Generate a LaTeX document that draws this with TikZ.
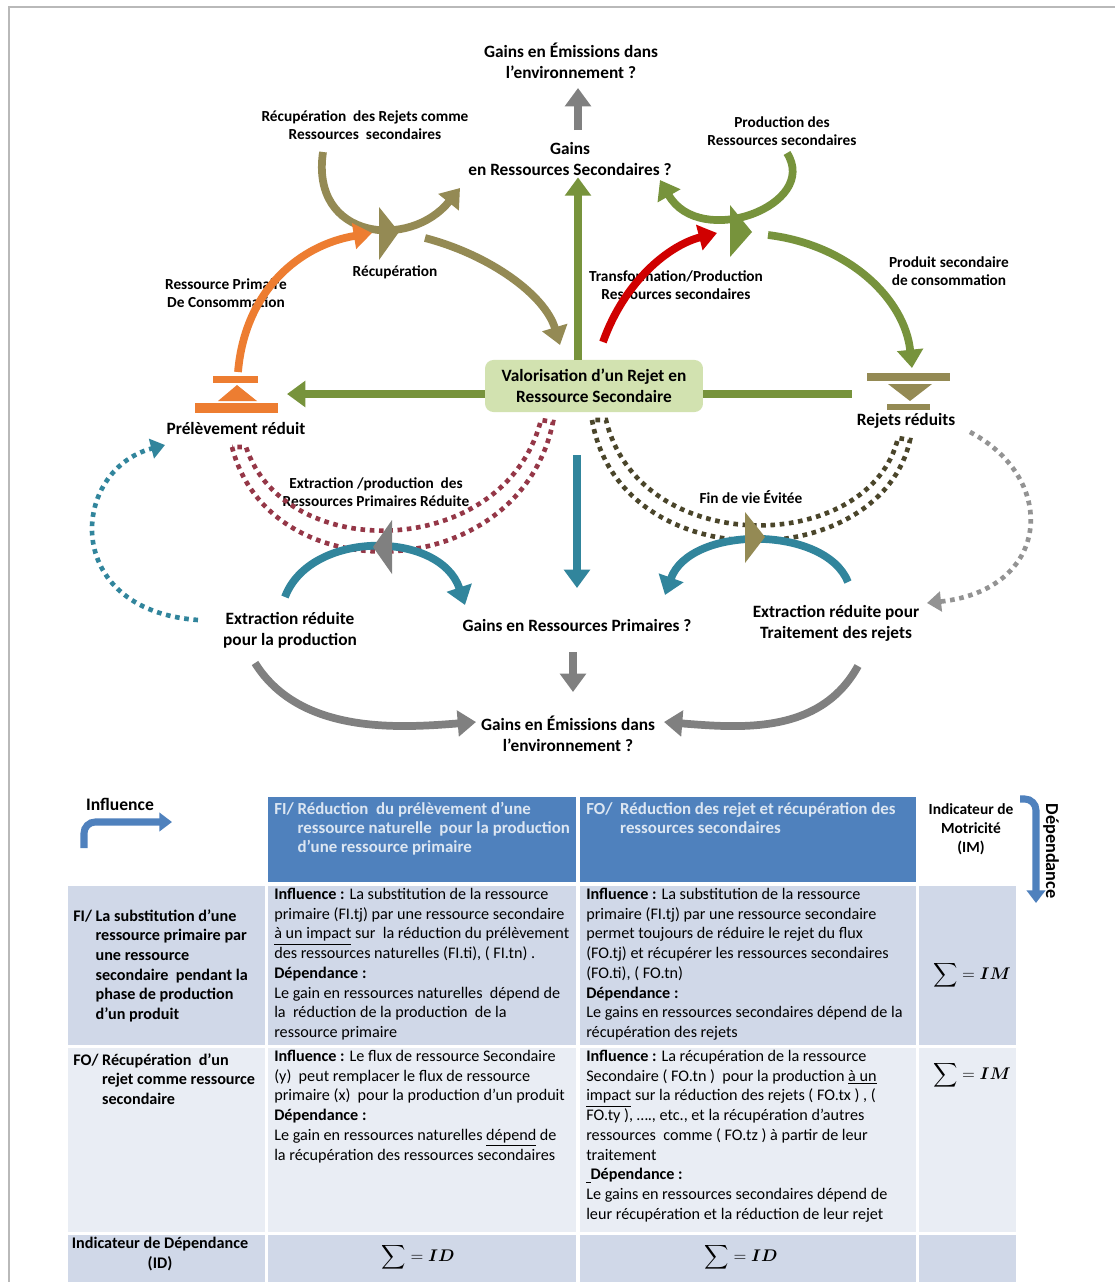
\documentclass[tikz,border=0pt]{standalone}
\usepackage{amsmath}
\usepackage{fontspec}
\setmainfont{Carlito}
\usetikzlibrary{arrows.meta}

\definecolor{flowOrange}{HTML}{ED7D31}
\definecolor{flowOlive}{HTML}{948A54}
\definecolor{flowGreen}{HTML}{77933C}
\definecolor{flowRed}{HTML}{D00000}
\definecolor{flowTeal}{HTML}{31859C}
\definecolor{flowGray}{HTML}{808080}
\definecolor{dotRed}{HTML}{953747}
\definecolor{dotOlive}{HTML}{4A452A}
\definecolor{boxGreen}{HTML}{D2E2B0}
\definecolor{headBlue}{HTML}{4F81BD}
\definecolor{headText}{HTML}{DCE6F2}
\definecolor{rowDark}{HTML}{D0D8E8}
\definecolor{rowLight}{HTML}{E9EDF4}

\begin{document}
\begin{tikzpicture}[x=0.025cm,y=-0.025cm,
  flow/.style={line width=5.5pt,-{Triangle[length=13pt,width=18pt]}},
  link/.style={line width=5.5pt},
  dotflow/.style={line width=3.3pt,dash pattern=on 3.3pt off 3.3pt},
  dottip/.style={-{Triangle[length=10pt,width=14pt]}},
  lbl/.style={font=\bfseries\fontsize{12.3}{15}\selectfont,align=center,inner sep=1pt},
  slbl/.style={font=\bfseries\fontsize{10.9}{13.2}\selectfont,align=center,inner sep=1pt},
  cell/.style={font=\fontsize{11.5}{14}\selectfont,align=left,anchor=north west,inner sep=0pt},
  rowhead/.style={font=\bfseries\fontsize{11.5}{14}\selectfont,anchor=north west,inner sep=0pt},
  headtxt/.style={font=\bfseries\fontsize{12}{13.5}\selectfont,text=headText,anchor=north west,inner sep=0pt},
  sumtxt/.style={font=\fontsize{13}{15}\selectfont,inner sep=0pt}]
\clip (0,0) rectangle (1115,1282);
\useasboundingbox (0,0) rectangle (1115,1282);
\fill[white] (0,0) rectangle (1115,1282);
\draw[gray!55,line width=1pt] (9,7) rectangle (1130,1300);

% labels of the flow diagram
\node[lbl] (emTop) at (571,61) {Gains en Émissions dans\\l’environnement ?};
\node[lbl] (gSec) at (570,159) {Gains\\en Ressources Secondaires ?};
\node[slbl] (recupRej) at (365,125) {Récupération\ \ des Rejets comme\\Ressources\ \ secondaires};
\node[slbl] (recup) at (395,272) {Récupération};
\node[slbl] (resPrim) at (226,293) {Ressource Primaire\\De Consommation};
\node[slbl] (prodSec) at (782,131) {Production des\\Ressources secondaires};
\node[slbl] (transf) at (676,285) {Transformation/Production\\Ressources secondaires};
\node[slbl] (prodCons) at (949,271) {Produit secondaire\\de consommation};
\node[lbl] (prel) at (236,428) {Prélèvement réduit};
\node[lbl] (rej) at (906,421) {Rejets réduits};
\node[slbl] (extrProd) at (376,492) {Extraction /production\ \ des\\Ressources Primaires Réduite};
\node[slbl] (finVie) at (751,497) {Fin de vie Évitée};
\node[lbl] (gPrim) at (577,625) {Gains en Ressources Primaires ?};
\node[lbl] (extrRed) at (290,630) {Extraction réduite\\pour la production};
\node[lbl] (extrTrait) at (836,623) {Extraction réduite pour\\Traitement des rejets};
\node[lbl] (emBot) at (568,734) {Gains en Émissions dans\\l’environnement ?};
\node[lbl,fill=boxGreen,rounded corners=6pt,minimum width=155pt,minimum height=37pt]
  (val) at (594,386) {Valorisation d’un Rejet en\\Ressource Secondaire};

\coordinate (valUp) at (578,360);
\coordinate (valDn) at (577,455);
\coordinate (valL) at (485,394);
\coordinate (valR) at (703,394);
\coordinate (preTip) at (287,394);
\coordinate (rejEnd) at (852,394);
\coordinate (topDn) at (578,130);
\coordinate (topUp) at (578,88);
\coordinate (botUp) at (573,652);
\coordinate (botDn) at (573,692);

% straight arrows
\draw[flow,flowGray] (topDn) -- (topUp);
\draw[flow,flowGreen] (valUp) -- (valUp |- gSec.south);
\draw[flow,flowGreen] (valL) -- (preTip);
\draw[link,flowGreen] (valR) -- (rejEnd);
\draw[flow,flowTeal] (valDn) -- (577,588);
\draw[flow,flowGray] (botUp) -- (botDn);

% withdrawal and discharge symbols
\fill[flowOrange] (213,376) rectangle (258,383);
\fill[flowOrange] (218,401) -- (237,385) -- (257,401) -- cycle;
\fill[flowOrange] (195,403) rectangle (278,413);
\fill[flowOlive] (867,373) rectangle (950,381);
\fill[flowOlive] (888,384) -- (932,384) -- (910,401) -- cycle;
\fill[flowOlive] (887,404) rectangle (930,410);

% upper loop
\draw[flow,flowOlive] (323,152) .. controls (310,240) and (410,250) .. (460,188);
\draw[flow,flowOrange] (238,372) .. controls (245,290) and (300,245) .. (372,233);
\draw[flow,flowOlive] (425,238) .. controls (490,255) and (545,295) .. (560,345);
\fill[flowOlive] (379,207) -- (399,232) -- (379,260) -- cycle;
\draw[flow,flowGreen] (787,153) .. controls (820,205) and (700,250) .. (660,180);
\draw[flow,flowRed] (603,342) .. controls (625,280) and (670,245) .. (717,233);
\draw[flow,flowGreen] (768,235) .. controls (850,245) and (905,300) .. (912,368);
\fill[flowGreen] (730,205) -- (752,232) -- (730,257) -- cycle;

% lower loop
\draw[dotflow,dotRed] (232,447) .. controls (270,595) and (520,585) .. (553,422)
  -- (541,420) .. controls (505,560) and (285,565) .. (246,447) -- cycle;
\draw[dotflow,dotOlive] (592,420) .. controls (620,580) and (880,575) .. (910,440)
  -- (898,438) .. controls (870,555) and (640,560) .. (606,420) -- cycle;
\draw[flow,flowTeal] (285,597) .. controls (310,530) and (440,530) .. (465,605);
\draw[flow,flowTeal] (848,582) .. controls (825,525) and (690,525) .. (665,595);
\fill[flowGray] (373,547) -- (392,520) -- (392,574) -- cycle;
\fill[flowOlive] (745,512) -- (765,537) -- (745,563) -- cycle;
\draw[dotflow,dottip,flowTeal] (198,620) .. controls (60,610) and (70,470) .. (165,445);
\draw[dotflow,dottip,flowGray!85] (970,432) .. controls (1060,480) and (1050,590) .. (927,603);
\draw[flow,flowGray] (255,663) .. controls (300,735) and (400,728) .. (476,722);
\draw[flow,flowGray] (858,666) .. controls (820,735) and (740,728) .. (664,722);

% table
\begin{scope}
\fill[headBlue] (268,797) rectangle (576,882);
\fill[headBlue] (580,797) rectangle (916,882);
\fill[rowDark] (68,886) rectangle (265,1045);
\fill[rowDark] (268,886) rectangle (576,1045);
\fill[rowDark] (580,886) rectangle (916,1045);
\fill[rowDark] (919,886) rectangle (1016,1045);
\fill[rowLight] (68,1048) rectangle (265,1232);
\fill[rowLight] (268,1048) rectangle (576,1232);
\fill[rowLight] (580,1048) rectangle (916,1232);
\fill[rowLight] (919,1048) rectangle (1016,1232);
\fill[rowDark] (68,1235) rectangle (265,1290);
\fill[rowDark] (268,1235) rectangle (576,1290);
\fill[rowDark] (580,1235) rectangle (916,1290);
\fill[rowDark] (919,1235) rectangle (1016,1290);

\node[font=\bfseries\fontsize{12.5}{13}\selectfont] (infl) at (120,804) {Influence};
\draw[line width=5pt,headBlue,rounded corners=8pt,-{Triangle[length=9pt,width=13pt]}]
  (84,848) |- (172,822);
\node[font=\bfseries\fontsize{11}{13.5}\selectfont,align=center] (imHead) at (971,829)
  {Indicateur de\\Motricité\\(IM)};
\draw[line width=5pt,headBlue,rounded corners=8pt,-{Triangle[length=9pt,width=13pt]}]
  (1020,799) -| (1036,903);
\node[font=\bfseries\fontsize{13}{13}\selectfont,rotate=-90] (dep) at (1051,851) {Dépendance};

\node[headtxt] (hFI) at (274,801) {\begin{tabular}{@{}l@{\ }l@{}}
  FI/ & Réduction\ \ du prélèvement d’une\\
      & ressource naturelle\ \ pour la production\\
      & d’une ressource primaire\end{tabular}};
\node[headtxt] (hFO) at (586,801) {\begin{tabular}{@{}l@{\ \ }l@{}}
  FO/ & Réduction des rejet et récupération des\\
      & ressources secondaires\end{tabular}};

\node[rowhead] (rFI) at (73,907) {\begin{tabular}{@{}l@{\ }l@{}}
  FI/ & La substitution d’une\\
      & ressource primaire par\\
      & une ressource\\
      & secondaire\ \ pendant la\\
      & phase de production\\
      & d’un produit\end{tabular}};
\node[cell] (cFIFI) at (274,888) {\textbf{Influence :} La substitution de la ressource\\
  primaire (FI.tj) par une ressource secondaire\\
  \underline{à un impact} sur\ \ la réduction du prélèvement\\
  des ressources naturelles (FI.ti), ( FI.tn) .\\
  \textbf{Dépendance :}\\
  Le gain en ressources naturelles\ \ dépend de\\
  la\ \ réduction de la production\ \ de la\\
  ressource primaire};
\node[cell] (cFIFO) at (586,888) {\textbf{Influence :} La substitution de la ressource\\
  primaire (FI.tj) par une ressource secondaire\\
  permet toujours de réduire le rejet du flux\\
  (FO.tj) et récupérer les ressources secondaires\\
  (FO.ti), ( FO.tn)\\
  \textbf{Dépendance :}\\
  Le gains en ressources secondaires dépend de la\\
  récupération des rejets};
\node[sumtxt] (imFI) at (972,975) {$\displaystyle\sum = \boldsymbol{IM}$};

\node[rowhead] (rFO) at (73,1051) {\begin{tabular}{@{}l@{\ }l@{}}
  FO/ & Récupération\ \ d’un\\
      & rejet comme ressource\\
      & secondaire\end{tabular}};
\node[cell] (cFOFI) at (274,1050) {\textbf{Influence :} Le flux de ressource Secondaire\\
  (y)\ \ peut remplacer le flux de ressource\\
  primaire (x)\ \ pour la production d’un produit\\
  \textbf{Dépendance :}\\
  Le gain en ressources naturelles \underline{dépend} de\\
  la récupération des ressources secondaires};
\node[cell] (cFOFO) at (586,1050) {\textbf{Influence :} La récupération de la ressource\\
  Secondaire ( FO.tn )\ \ pour la production \underline{à un}\\
  \underline{impact} sur la réduction des rejets ( FO.tx ) , (\\
  FO.ty ), …., etc., et la récupération d’autres\\
  ressources\ \ comme ( FO.tz ) à partir de leur\\
  traitement\\
  \underline{\hspace{3pt}}\textbf{Dépendance :}\\
  Le gains en ressources secondaires dépend de\\
  leur récupération et la réduction de leur rejet};
\node[sumtxt] (imFO) at (972,1075) {$\displaystyle\sum = \boldsymbol{IM}$};

\node[font=\bfseries\fontsize{11.5}{14}\selectfont,align=center] (idHead) at (160,1254)
  {Indicateur de Dépendance\\(ID)};
\node[sumtxt] (idFI) at (418,1257) {$\displaystyle\sum = \boldsymbol{ID}$};
\node[sumtxt] (idFO) at (741,1257) {$\displaystyle\sum = \boldsymbol{ID}$};
\end{scope}
\end{tikzpicture}
\end{document}
